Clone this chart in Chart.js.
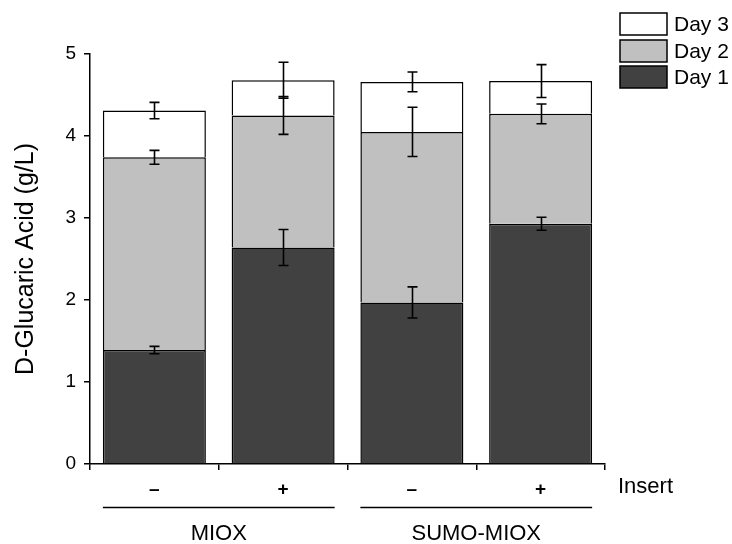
<!DOCTYPE html>
<html>
<head>
<meta charset="utf-8">
<script src="https://cdn.jsdelivr.net/npm/chart.js@4.4.1/dist/chart.umd.min.js"></script>
<style>
  html, body { margin: 0; padding: 0; background: #ffffff; }
  #wrap { width: 732px; height: 544px; }
</style>
</head>
<body>
<div id="wrap"><canvas id="chart" width="732" height="544"></canvas></div>
<script>
// Insert status for each strain, grouped by construct
const categories = ['–', '+', '–', '+'];
const groups = ['MIOX', 'SUMO-MIOX'];
const seriesNames = ['Day 1', 'Day 2', 'Day 3'];

// Titer gained on each day (g/L), stacked
const day1 = [1.39, 2.64, 1.97, 2.93];
const day2 = [2.35, 1.61, 2.08, 1.34];
const day3 = [0.57, 0.43, 0.61, 0.40];

// Error (±) at the top of each stacked segment
const err1 = [0.045, 0.22, 0.19, 0.08];
const err2 = [0.085, 0.23, 0.30, 0.12];
const err3 = [0.10, 0.22, 0.12, 0.20];

const yTicks = [0, 1, 2, 3, 4, 5];

const FONT = "'Liberation Sans', Arial, Helvetica, sans-serif";
const colors = ['#414141', '#c0c0c0', '#ffffff'];
const errors = [err1, err2, err3];

// Error bars drawn at the cumulative top of every segment
const errorBarPlugin = {
  id: 'errorBars',
  afterDatasetsDraw(chart) {
    const ctx = chart.ctx;
    const y = chart.scales.y;
    const n = chart.data.labels.length;
    ctx.save();
    ctx.strokeStyle = '#000';
    ctx.lineWidth = 1.6;
    for (let i = 0; i < n; i++) {
      let cum = 0;
      chart.data.datasets.forEach((ds, d) => {
        cum += ds.data[i];
        const bar = chart.getDatasetMeta(d).data[i];
        const e = errors[d][i];
        const x = Math.round(bar.x) + 0.5;
        const yHi = y.getPixelForValue(cum + e);
        const yLo = y.getPixelForValue(cum - e);
        ctx.beginPath();
        ctx.moveTo(x, yHi); ctx.lineTo(x, yLo);
        ctx.moveTo(x - 5, yHi); ctx.lineTo(x + 5, yHi);
        ctx.moveTo(x - 5, yLo); ctx.lineTo(x + 5, yLo);
        ctx.stroke();
      });
    }
    ctx.restore();
  }
};

// Group brackets, group names, the "Insert" caption and the legend boxes
const annotationPlugin = {
  id: 'annotations',
  afterDraw(chart) {
    const ctx = chart.ctx;
    const xs = chart.scales.x;
    const meta = chart.getDatasetMeta(0);
    ctx.save();
    ctx.fillStyle = '#000';
    ctx.strokeStyle = '#000';

    // "Insert" row caption
    ctx.font = '22px ' + FONT;
    ctx.textAlign = 'left';
    ctx.textBaseline = 'middle';
    ctx.fillText('Insert', xs.right + 13, 487);

    // group brackets under each pair of bars
    groups.forEach((g, k) => {
      const b0 = meta.data[2 * k];
      const b1 = meta.data[2 * k + 1];
      const left = b0.x - b0.width / 2;
      const right = b1.x + b1.width / 2;
      ctx.lineWidth = 1.6;
      ctx.beginPath();
      ctx.moveTo(left, 507.5);
      ctx.lineTo(right, 507.5);
      ctx.stroke();
      ctx.font = '22px ' + FONT;
      ctx.textAlign = 'center';
      ctx.textBaseline = 'middle';
      ctx.fillText(g, (left + right) / 2, 534);
    });

    // legend, top entry first (Day 3 on top)
    const boxX = 620, boxW = 47, boxH = 22;
    const boxY = [66, 40, 13];
    chart.data.datasets.forEach((ds, d) => {
      ctx.fillStyle = ds.backgroundColor;
      ctx.fillRect(boxX, boxY[d], boxW, boxH);
      ctx.lineWidth = 1.5;
      ctx.strokeStyle = '#000';
      ctx.strokeRect(boxX, boxY[d], boxW, boxH);
      ctx.fillStyle = '#000';
      ctx.font = '21px ' + FONT;
      ctx.textAlign = 'left';
      ctx.textBaseline = 'middle';
      ctx.fillText(ds.label, boxX + boxW + 7, boxY[d] + boxH / 2 + 1);
    });
    ctx.restore();
  }
};

const datasets = [day1, day2, day3].map((vals, d) => ({
  label: seriesNames[d],
  data: vals,
  backgroundColor: colors[d],
  borderColor: '#000',
  // segments share one divider line: each draws its top edge only
  borderWidth: { top: 1.5, left: 1.5, right: 1.5, bottom: 0 },
  borderSkipped: false,
  barPercentage: 0.8,
  categoryPercentage: 1.0
}));

new Chart(document.getElementById('chart'), {
  type: 'bar',
  data: { labels: categories, datasets },
  options: {
    responsive: false,
    animation: false,
    devicePixelRatio: 1,
    layout: { padding: { top: 54, right: 127, left: 0, bottom: 0 } },
    plugins: {
      legend: { display: false },
      tooltip: { enabled: false }
    },
    scales: {
      x: {
        stacked: true,
        offset: true,
        afterFit(scale) { scale.height = 80; },
        grid: {
          offset: true,
          drawOnChartArea: false,
          drawTicks: true,
          tickLength: 6,
          color: '#000',
          lineWidth: 1.5
        },
        border: { display: true, color: '#000', width: 1.5 },
        ticks: {
          color: '#000',
          padding: 8,
          font: { family: FONT, size: 19, weight: 'bold' }
        }
      },
      y: {
        stacked: true,
        min: 0,
        max: 5,
        afterBuildTicks(scale) { scale.ticks = yTicks.map(v => ({ value: v })); },
        afterFit(scale) { scale.width = 90; },
        grid: {
          drawOnChartArea: false,
          drawTicks: true,
          tickLength: 6,
          color: '#000',
          lineWidth: 1.5
        },
        border: { display: true, color: '#000', width: 1.5 },
        ticks: {
          color: '#000',
          padding: 8,
          font: { family: FONT, size: 19 }
        },
        title: {
          display: true,
          text: 'D-Glucaric Acid (g/L)',
          color: '#000',
          padding: { top: 11, bottom: 0 },
          font: { family: FONT, size: 25 }
        }
      }
    }
  },
  plugins: [errorBarPlugin, annotationPlugin]
});
</script>
</body>
</html>
